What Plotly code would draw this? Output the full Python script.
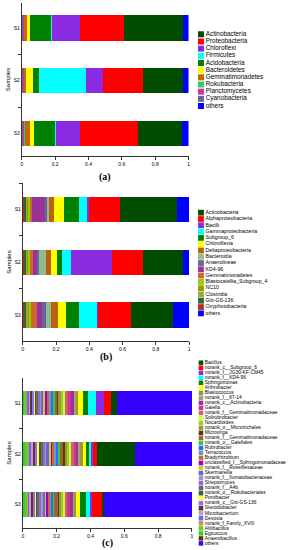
import plotly.graph_objects as go

samples = ["S1", "S2", "S3"]

# ---------------- panel (a): phylum ----------------
a_names = ["Actinobacteria", "Proteobacteria", "Chloroflexi", "Firmicutes", "Acidobacteria",
           "Bacteroidetes", "Gemmatimonadetes", "Rokubacteria", "Planctomycetes",
           "Cyanobacteria", "others"]
a_colors = ["#004d00", "#ff0000", "#8a2be2", "#00ffff", "#008000", "#ffff00", "#cc6600",
            "#33cc66", "#cc3399", "#666699", "#0000ff"]
a_S1 = [0.355, 0.262, 0.170, 0.008, 0.126, 0.018, 0.014, 0.004, 0.006, 0.006, 0.032]
a_S2 = [0.243, 0.237, 0.103, 0.280, 0.041, 0.039, 0.012, 0.002, 0.004, 0.008, 0.032]
a_S3 = [0.266, 0.345, 0.146, 0.006, 0.128, 0.024, 0.030, 0.004, 0.006, 0.008, 0.037]

# ---------------- panel (b): class ----------------
b_names = ["Actinobacteria", "Alphaproteobacteria", "Bacilli", "Gammaproteobacteria", "Subgroup_6",
           "Chloroflexia", "Deltaproteobacteria", "Bacteroidia", "Anaerolineae", "KD4-96",
           "Gemmatimonadetes", "Blastocatellia_Subgroup_4", "NC10", "Clostridia", "Gitt-GS-136",
           "Oxyphotobacteria", "others"]
b_colors = ["#004d00", "#ff0000", "#8a2be2", "#00ffff", "#008000", "#ffff00", "#b8600b",
            "#8fbc8f", "#666699", "#993399", "#cc6633", "#99cc00", "#999900", "#99aa33",
            "#336633", "#b03020", "#0000ff"]
b_S1 = [0.346, 0.187, 0.006, 0.053, 0.088, 0.060, 0.030, 0.012, 0.016, 0.075, 0.012, 0.010,
        0.006, 0.006, 0.012, 0.010, 0.071]
b_S2 = [0.237, 0.191, 0.247, 0.050, 0.033, 0.036, 0.030, 0.040, 0.012, 0.025, 0.020, 0.008,
        0.008, 0.006, 0.008, 0.012, 0.037]
b_S3 = [0.253, 0.200, 0.006, 0.105, 0.078, 0.050, 0.045, 0.030, 0.020, 0.035, 0.033, 0.010,
        0.008, 0.010, 0.010, 0.012, 0.095]

# ---------------- panel (c): genus ----------------
c_names = ["Bacillus", "norank_c__Subgroup_6", "norank_f__JG30-KF-CM45", "norank_f__KD4-96",
           "Sphingomonas", "Arthrobacter", "Blastococcus", "norank_f__67-14",
           "norank_c__Actinobacteria", "Gaiella", "norank_f__Gemmatimonadaceae", "Solirubrobacter",
           "Nocardioides", "norank_o__Microtrichales", "Microvirga", "norank_f__Gemmatimonadaceae ",
           "norank_o__Gaiellales", "Rubrobacter", "Terracoccus", "Bradyrhizobium",
           "unclassified_f__Sphingomonadaceae", "norank_f__Roseiflexaceae", "Skermanella",
           "norank_f__Ilumatobacteraceae", "Streptomyces", "norank_f__A4b",
           "norank_o__Rokubacteriales", "Pontibacter", "norank_c__Gitt-GS-136", "Steroidobacter",
           "Microbacterium", "Devosia", "norank_f_Family_XVIII", "Alitibacillus", "Egicoccus",
           "Anaerobacillus", "others"]
c_colors = ["#004d00", "#ff0000", "#8a2be2", "#00ffff", "#008000", "#ffff00", "#999933",
            "#a0a080", "#993399", "#cc3399", "#cc6666", "#ccff33", "#99cc33", "#999933",
            "#663300", "#996633", "#33cc33", "#3366ff", "#6699cc", "#cc6633", "#9900cc",
            "#cccc33", "#6666cc", "#9999cc", "#9966cc", "#666666", "#336633", "#ffff33",
            "#9966ff", "#663333", "#cc99cc", "#6666ff", "#cc9933", "#66cc33", "#33cc33",
            "#663300", "#3300ff"]
c_S1 = [0.035, 0.046, 0.043, 0.049, 0.030, 0.030, 0.012, 0.010, 0.018, 0.020, 0.015, 0.016,
        0.010, 0.014, 0.008, 0.012, 0.014, 0.012, 0.008, 0.010, 0.018, 0.010, 0.008, 0.012,
        0.010, 0.008, 0.010, 0.006, 0.010, 0.008, 0.010, 0.008, 0.010, 0.008, 0.006, 0.005,
        0.441]
c_S2 = [0.229, 0.020, 0.015, 0.010, 0.015, 0.020, 0.015, 0.012, 0.010, 0.016, 0.020, 0.012,
        0.008, 0.014, 0.010, 0.018, 0.012, 0.010, 0.015, 0.008, 0.012, 0.010, 0.014, 0.008,
        0.012, 0.010, 0.015, 0.012, 0.008, 0.014, 0.010, 0.012, 0.008, 0.016, 0.010, 0.005,
        0.335]
c_S3 = [0.010, 0.062, 0.010, 0.025, 0.035, 0.020, 0.010, 0.012, 0.016, 0.018, 0.014, 0.010,
        0.012, 0.008, 0.010, 0.020, 0.008, 0.012, 0.006, 0.010, 0.012, 0.008, 0.010, 0.014,
        0.008, 0.012, 0.010, 0.006, 0.012, 0.008, 0.010, 0.006, 0.012, 0.008, 0.010, 0.005,
        0.521]

x_ticks = [0, 0.2, 0.4, 0.6, 0.8, 1]

W, H = 288, 550
panels = [
    dict(names=a_names, colors=a_colors, vals=[a_S1, a_S2, a_S3], xpx=(21, 189.5), ypx=(3, 156),
         yr=[2.427, -0.474], label="(a)", ly=177,
         leg=dict(first=34.3, step=7.17, font=6.4)),
    dict(names=b_names, colors=b_colors, vals=[b_S1, b_S2, b_S3], xpx=(22, 190), ypx=(183, 341),
         yr=[2.493, -0.502], label="(b)", ly=357,
         leg=dict(first=212.7, step=6.29, font=5.2)),
    dict(names=c_names, colors=c_colors, vals=[c_S1, c_S2, c_S3], xpx=(22, 193), ypx=(378, 528),
         yr=[2.463, -0.493], label="(c)", ly=543,
         leg=dict(first=362.7, step=5.02, font=4.9)),
]

fig = go.Figure()
layout = dict(width=W, height=H, margin=dict(l=0, r=0, t=0, b=0), barmode="stack", bargap=0.52,
              paper_bgcolor="white", plot_bgcolor="white", showlegend=False,
              font=dict(family="Liberation Sans, Arial, sans-serif", color="black"))
annotations = []

for k, p in enumerate(panels):
    xa = "x" if k == 0 else f"x{k + 1}"
    ya = "y" if k == 0 else f"y{k + 1}"
    n = len(p["names"])
    order = list(range(n - 2, -1, -1)) + [n - 1]
    for i in order:
        fig.add_trace(go.Bar(
            y=samples, x=[p["vals"][s][i] for s in range(3)], orientation="h",
            marker=dict(color=p["colors"][i], line=dict(width=0)),
            name=p["names"][i], xaxis=xa, yaxis=ya, hoverinfo="skip", showlegend=False))
    x0, x1 = p["xpx"]
    t, b = p["ypx"]
    xkey = "xaxis" if k == 0 else f"xaxis{k + 1}"
    ykey = "yaxis" if k == 0 else f"yaxis{k + 1}"
    layout[xkey] = dict(domain=[x0 / W, x1 / W], range=[0, 1], tickvals=x_ticks,
                        ticktext=["0", "0.2", "0.4", "0.6", "0.8", "1"],
                        ticks="outside", ticklen=3, tickwidth=0.8, tickcolor="#333",
                        showline=True, linecolor="#333", linewidth=0.8, showgrid=False,
                        zeroline=False, tickfont=dict(size=5), anchor=ya, fixedrange=True)
    layout[ykey] = dict(domain=[1 - b / H, 1 - t / H], type="category", range=p["yr"],
                        categoryorder="array", categoryarray=samples,
                        tickson="boundaries", ticks="outside", ticklen=3, tickwidth=0.8,
                        tickcolor="#333", showline=True, linecolor="#333", linewidth=0.8,
                        showgrid=False, zeroline=False, tickfont=dict(size=5),
                        title=dict(text="Samples", font=dict(size=6), standoff=2),
                        anchor=xa, fixedrange=True)
    annotations.append(dict(text="<b>" + p["label"] + "</b>", xref="paper", yref="paper",
                            x=((x0 + x1) / 2) / W, y=1 - p["ly"] / H, showarrow=False,
                            font=dict(family="Liberation Serif, Times New Roman, serif", size=10),
                            xanchor="center", yanchor="middle"))

    lg = p["leg"]
    top = lg["first"] - lg["step"] / 2
    bot = top + n * lg["step"]
    lx = f"x{k + 4}"
    ly = f"y{k + 4}"
    fig.add_trace(go.Scatter(
        x=[0] * n, y=list(range(n)), mode="markers+text",
        marker=dict(symbol="square", size=min(6, lg["step"] - 0.5), color=p["colors"],
                    line=dict(width=0)),
        text=p["names"], textposition="middle right",
        textfont=dict(size=lg["font"], color="black"),
        xaxis=lx, yaxis=ly, hoverinfo="skip", showlegend=False, cliponaxis=False))
    layout[f"xaxis{k + 4}"] = dict(domain=[199.5 / W, 1], range=[-0.3, 10], visible=False,
                                   anchor=ly, fixedrange=True)
    layout[f"yaxis{k + 4}"] = dict(domain=[1 - bot / H, 1 - top / H], range=[n - 0.5, -0.5],
                                   visible=False, anchor=lx, fixedrange=True)

layout["annotations"] = annotations
fig.update_layout(**layout)
fig.write_html("out.html", config={"displayModeBar": False},
               post_script="document.body.style.margin='0';")
